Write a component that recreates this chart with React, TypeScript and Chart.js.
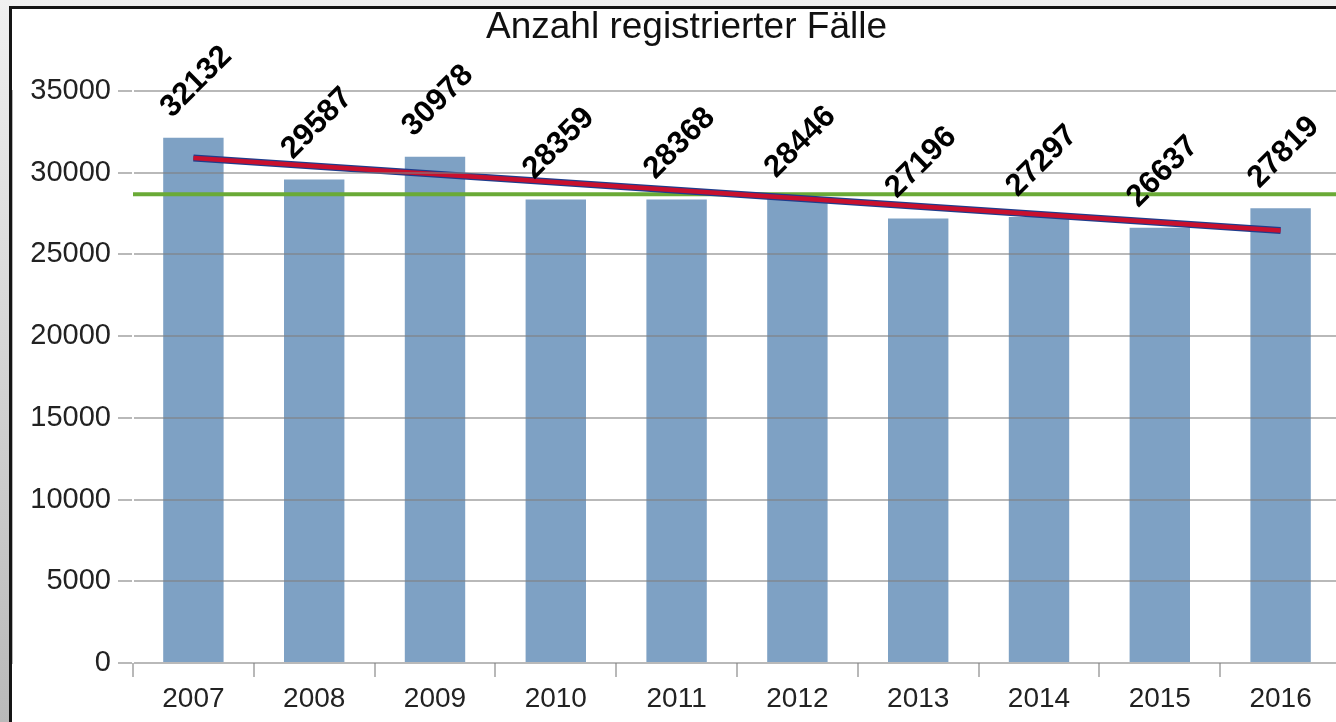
import React, { useEffect, useRef } from "react";
import { Chart, registerables } from "chart.js";

Chart.register(...registerables);

const CATEGORIES = ["2007", "2008", "2009", "2010", "2011", "2012", "2013", "2014", "2015", "2016"];
const CASES = [32132, 29587, 30978, 28359, 28368, 28446, 27196, 27297, 26637, 27819];
const Y_TICKS = [0, 5000, 10000, 15000, 20000, 25000, 30000, 35000];
const AVERAGE = 28682;
const TREND_ENDS = [30899, 26465];
const TITLE = "Anzahl registrierter Fälle";

const FONT = "'Liberation Sans', Arial, sans-serif";

export default function App() {
  const ref = useRef<HTMLCanvasElement | null>(null);

  useEffect(() => {
    if (!ref.current) return;
    const trendData = CATEGORIES.map((_, i) =>
      i === 0 ? TREND_ENDS[0] : i === CATEGORIES.length - 1 ? TREND_ENDS[1] : null
    );

    const averagePlugin = {
      id: "averageLine",
      afterDatasetDraw(chart: any, args: any) {
        if (args.meta.type !== "bar") return;
        const { ctx, chartArea } = chart;
        const y = chart.scales.y.getPixelForValue(AVERAGE);
        ctx.save();
        ctx.strokeStyle = "#6aaa36";
        ctx.lineWidth = 4;
        ctx.beginPath();
        ctx.moveTo(chartArea.left, y);
        ctx.lineTo(chartArea.right, y);
        ctx.stroke();
        ctx.restore();
      },
    };

    const titleAndLabels = {
      id: "titleAndLabels",
      afterDraw(chart: any) {
        const { ctx } = chart;
        ctx.save();
        ctx.font = `37px ${FONT}`;
        ctx.fillStyle = "#111";
        ctx.textAlign = "center";
        ctx.textBaseline = "middle";
        ctx.fillText(TITLE, 674.5, 19);

        const meta = chart.getDatasetMeta(0);
        ctx.font = `bold 31px ${FONT}`;
        ctx.fillStyle = "#000";
        meta.data.forEach((el: any, i: number) => {
          ctx.save();
          ctx.translate(el.x + 3, el.y - 56);
          ctx.rotate(-Math.PI / 4);
          ctx.fillText(String(CASES[i]), 0, 0);
          ctx.restore();
        });
        ctx.restore();
      },
    };

    const chart = new Chart(ref.current, {
      type: "bar",
      data: {
        labels: CATEGORIES,
        datasets: [
          {
            type: "bar",
            data: CASES,
            backgroundColor: "#7ea1c4",
            categoryPercentage: 1,
            barPercentage: 0.5,
            order: 3,
          },
          {
            type: "line",
            data: trendData,
            borderColor: "#1f3c8c",
            borderWidth: 7,
            pointRadius: 0,
            spanGaps: true,
            borderCapStyle: "butt",
            order: 2,
          } as any,
          {
            type: "line",
            data: trendData,
            borderColor: "#c8102e",
            borderWidth: 4.5,
            pointRadius: 0,
            spanGaps: true,
            borderCapStyle: "butt",
            order: 1,
          } as any,
        ],
      },
      options: {
        responsive: false,
        animation: false,
        devicePixelRatio: 1,
        layout: { padding: { left: 0, right: 20, top: 82, bottom: 16 } },
        plugins: {
          legend: { display: false },
          tooltip: { enabled: false },
          title: { display: false },
        },
        scales: {
          x: {
            grid: {
              offset: true,
              drawOnChartArea: false,
              color: "#b8b8b8",
              lineWidth: 2,
              tickLength: 14,
            },
            border: { display: false },
            ticks: {
              color: "#222",
              font: { family: FONT, size: 28 },
              padding: 5,
              maxRotation: 0,
            },
            afterFit: (s: any) => {
              s.height = 60;
            },
          },
          y: {
            min: 0,
            max: 35000,
            grid: {
              color: "rgba(128,128,128,0.55)",
              lineWidth: 2,
              tickLength: 15,
              z: 1,
            },
            border: { display: true, color: "#b8b8b8", width: 2 },
            afterBuildTicks: (s: any) => {
              s.ticks = Y_TICKS.map((v) => ({ value: v }));
            },
            ticks: {
              color: "#222",
              font: { family: FONT, size: 29 },
              padding: 7,
              callback: (v: any) => String(v),
            },
            afterFit: (s: any) => {
              s.width = 121;
            },
          },
        },
      },
      plugins: [averagePlugin, titleAndLabels],
    });
    return () => chart.destroy();
  }, []);

  return (
    <div
      style={{
        position: "fixed",
        inset: 0,
        overflow: "hidden",
        background: "linear-gradient(#f0f0f0, #b9b9b9)",
      }}
    >
      <div
        style={{
          position: "absolute",
          left: 9,
          top: 6,
          width: 1355,
          height: 736,
          border: "3px solid #151515",
          background: "#fff",
        }}
      >
        <canvas ref={ref} width={1349} height={730} style={{ display: "block" }} />
      </div>
    </div>
  );
}
